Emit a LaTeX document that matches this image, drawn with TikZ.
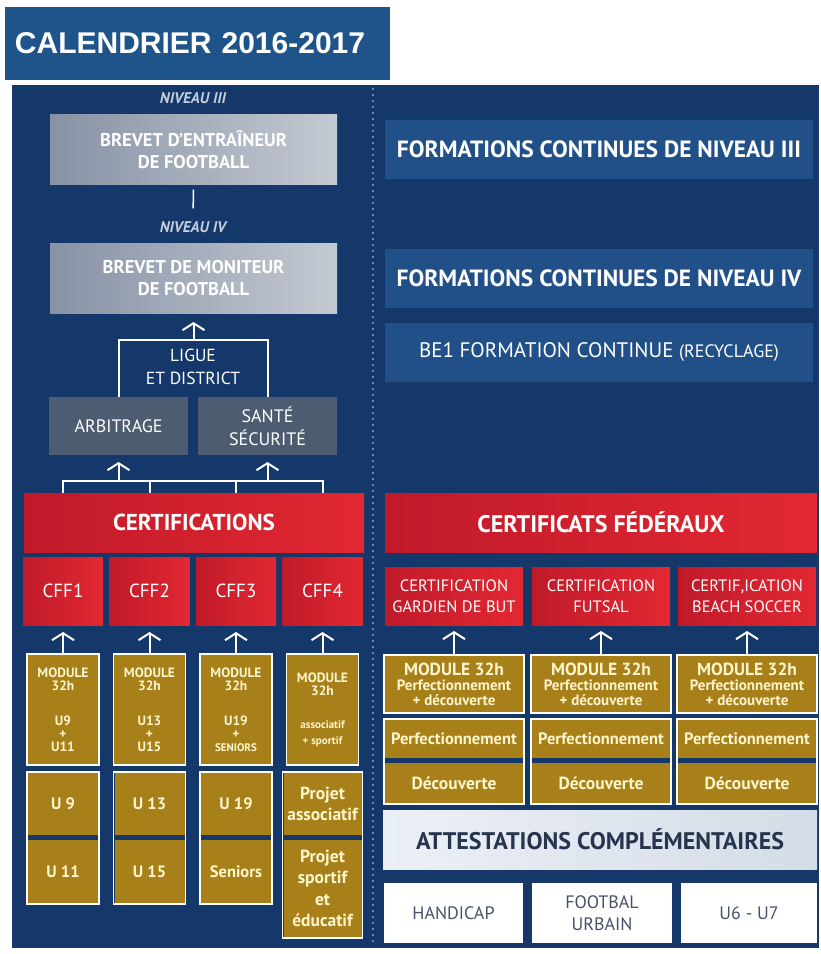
\documentclass[tikz,border=0pt]{standalone}
\usepackage{fontspec}
\setmainfont{PT Sans}
\newfontfamily\titlefont{Liberation Sans}
\usetikzlibrary{arrows.meta}
\usetikzlibrary{positioning}
\definecolor{navy}{RGB}{21,56,106}
\definecolor{titleblue}{RGB}{31,84,138}
\definecolor{bandblue}{RGB}{33,80,136}
\definecolor{silverL}{RGB}{135,146,165}
\definecolor{silverR}{RGB}{196,202,210}
\definecolor{slate}{RGB}{77,92,112}
\definecolor{redL}{RGB}{192,26,42}
\definecolor{redR}{RGB}{226,40,50}
\definecolor{gold}{RGB}{168,128,26}
\definecolor{cream}{RGB}{255,246,205}
\definecolor{niv}{RGB}{195,205,222}
\definecolor{dotblue}{RGB}{95,135,185}
\definecolor{attL}{RGB}{236,240,246}
\definecolor{attR}{RGB}{212,220,231}
\definecolor{ink}{RGB}{38,52,78}
\newcommand{\petit}{\fontsize{11}{12}\selectfont}

\begin{document}
\begin{tikzpicture}[%
        x=1pt, y=-1pt,
        every node/.style={inner sep=0pt, outer sep=0pt, align=center, text=white},
        niveau/.style={text=niv, font=\fontsize{15.5}{16}\selectfont\bfseries\itshape},
        greybox/.style={left color=silverL, right color=silverR, minimum width=287pt, minimum height=70pt, font=\fontsize{18.5}{22}\selectfont\bfseries},
        slatebox/.style={fill=slate, minimum width=139pt, minimum height=58pt, font=\fontsize{18}{23}\selectfont},
        redbox/.style={left color=redL, right color=redR},
        cffbox/.style={redbox, minimum width=80pt, minimum height=68pt, font=\fontsize{19}{20}\selectfont},
        certbox/.style={redbox, minimum width=138pt, minimum height=58pt, font=\fontsize{16.5}{21}\selectfont},
        band/.style={fill=bandblue, minimum width=428pt, minimum height=59pt},
        goldbox/.style={fill=gold, text=cream},
        moduleL/.style={goldbox, draw=white, line width=1.5pt, minimum width=72pt, minimum height=111pt, font=\fontsize{13.5}{13}\selectfont\bfseries},
        moduleR/.style={goldbox, draw=white, line width=1.5pt, minimum width=140pt, minimum height=58pt, font=\fontsize{15}{15}\selectfont\bfseries},
        modframe/.style={draw=white, line width=1.5pt, fill=navy},
        lowgold/.style={goldbox, font=\fontsize{16.5}{21}\selectfont\bfseries},
        whitebox/.style={fill=white, text=ink!85, minimum height=60pt, font=\fontsize{18}{22}\selectfont},
        link/.style={draw=white, line width=2pt},
        uparrow/.style={link, -{Straight Barb[length=7pt,width=22pt,line width=2pt]}, shorten >=7pt}
      ]
      \fill[white] (0,0) rectangle (821,954);
      \fill[navy] (12,85) rectangle (819,948);
      \node[fill=titleblue, minimum width=385pt, minimum height=73pt, text width=365pt, inner xsep=10pt, align=left, font=\titlefont\fontsize{30}{30}\selectfont\bfseries] (titre) at (197.5,43.5) {CALENDRIER 2016-2017};
      \draw[dotblue, line width=2pt, dash pattern=on 2pt off 4pt] (373,88) -- (373,945);

      \node[niveau] (niv3) at (193,98) {NIVEAU III};
      \node[greybox] (be) at (193.5,149.5) {BREVET D’ENTRAÎNEUR\\DE FOOTBALL};
      \node[niveau] (niv4) at (193,227) {NIVEAU IV};
      \node[greybox] (bm) at (193.5,278) {BREVET DE MONITEUR\\DE FOOTBALL};
      \node[font=\fontsize{17.5}{23}\selectfont] (ld) at (193,367) {LIGUE\\ET DISTRICT};
      \node[slatebox] (arb) at (118.5,426) {ARBITRAGE};
      \node[slatebox] (sante) at (267.5,426) {SANTÉ\\SÉCURITÉ};
      \node[redbox, minimum width=340pt, minimum height=59pt, font=\fontsize{23}{24}\selectfont\bfseries] (cert) at (194,522.5) {CERTIFICATIONS};
      \node[cffbox] (cff1) at (63,591) {CFF1};
      \node[cffbox, right=6.5pt of cff1] (cff2) {CFF2};
      \node[cffbox, right=6.5pt of cff2] (cff3) {CFF3};
      \node[cffbox, right=6.5pt of cff3] (cff4) {CFF4};
      \node[moduleL, below=29pt of cff1] (mod1) {MODULE\\32h\\[22pt]U9\\+\\U11};
      \node[moduleL, below=29pt of cff2] (mod2) {MODULE\\32h\\[22pt]U13\\+\\U15};
      \node[moduleL, below=29pt of cff3] (mod3) {MODULE\\32h\\[22pt]U19\\+\\{\petit SENIORS}};
      \node[moduleL, below=29pt of cff4] (mod4) {MODULE\\32h\\[20pt]{\petit associatif}\\[3pt]{\petit + sportif}};
      \node[modframe, minimum width=72pt, minimum height=132pt, below=7pt of mod1] (lo1) {};
      \node[modframe, minimum width=72pt, minimum height=132pt, below=7pt of mod2] (lo2) {};
      \node[modframe, minimum width=72pt, minimum height=132pt, below=7pt of mod3] (lo3) {};
      \node[modframe, minimum width=80pt, minimum height=166pt, below=7pt of mod4] (lo4) {};
      \node[lowgold, minimum width=70pt, minimum height=62pt, below=1pt of lo1.north] (u9) {U 9};
      \node[lowgold, minimum width=70pt, minimum height=63pt, above=1pt of lo1.south] (u11) {U 11};
      \node[lowgold, minimum width=70pt, minimum height=62pt, below=1pt of lo2.north] (u13) {U 13};
      \node[lowgold, minimum width=70pt, minimum height=63pt, above=1pt of lo2.south] (u15) {U 15};
      \node[lowgold, minimum width=70pt, minimum height=62pt, below=1pt of lo3.north] (u19) {U 19};
      \node[lowgold, minimum width=70pt, minimum height=63pt, above=1pt of lo3.south] (sen) {Seniors};
      \node[lowgold, font=\fontsize{17.5}{21.5}\selectfont\bfseries, minimum width=78pt, minimum height=62pt, below=1pt of lo4.north] (pa) {Projet\\associatif};
      \node[lowgold, font=\fontsize{17.5}{21.5}\selectfont\bfseries, minimum width=78pt, minimum height=97pt, above=1pt of lo4.south] (ps) {Projet\\sportif\\et\\éducatif};

      \node[band, font=\fontsize{23.5}{24}\selectfont\bfseries] (fc3) at (599,149) {FORMATIONS CONTINUES DE NIVEAU III};
      \node[band, font=\fontsize{23.5}{24}\selectfont\bfseries] (fc4) at (599,278) {FORMATIONS CONTINUES DE NIVEAU IV};
      \node[band, font=\fontsize{21}{22}\selectfont] (be1) at (599,352) {BE1 FORMATION CONTINUE {\fontsize{18}{20}\selectfont(RECYCLAGE)}};
      \node[redbox, minimum width=432pt, minimum height=59pt, font=\fontsize{24}{25}\selectfont\bfseries] (cf) at (601,522.5) {CERTIFICATS FÉDÉRAUX};
      \node[certbox] (cg) at (454,596) {CERTIFICATION\\GARDIEN DE BUT};
      \node[certbox, right=9pt of cg] (cfu) {CERTIFICATION\\FUTSAL};
      \node[certbox, right=8pt of cfu] (cbs) {CERTIF,ICATION\\BEACH SOCCER};
      \node[moduleR, below=30pt of cg] (mg) {{\fontsize{17.5}{16}\selectfont MODULE 32h}\\Perfectionnement\\+ découverte};
      \node[moduleR, below=30pt of cfu] (mf) {{\fontsize{17.5}{16}\selectfont MODULE 32h}\\Perfectionnement\\+ découverte};
      \node[moduleR, below=30pt of cbs] (mb) {{\fontsize{17.5}{16}\selectfont MODULE 32h}\\Perfectionnement\\+ découverte};
      \node[modframe, minimum width=140pt, minimum height=85pt, below=6pt of mg] (log) {};
      \node[modframe, minimum width=140pt, minimum height=85pt, below=6pt of mf] (lof) {};
      \node[modframe, minimum width=140pt, minimum height=85pt, below=6pt of mb] (lob) {};
      \node[lowgold, minimum width=138pt, minimum height=38pt, below=1pt of log.north] (pg) {Perfectionnement};
      \node[lowgold, font=\fontsize{17.5}{20}\selectfont\bfseries, minimum width=138pt, minimum height=40pt, above=1pt of log.south] (dg) {Découverte};
      \node[lowgold, minimum width=138pt, minimum height=38pt, below=1pt of lof.north] (pf) {Perfectionnement};
      \node[lowgold, font=\fontsize{17.5}{20}\selectfont\bfseries, minimum width=138pt, minimum height=40pt, above=1pt of lof.south] (df) {Découverte};
      \node[lowgold, minimum width=138pt, minimum height=38pt, below=1pt of lob.north] (pb) {Perfectionnement};
      \node[lowgold, font=\fontsize{17.5}{20}\selectfont\bfseries, minimum width=138pt, minimum height=40pt, above=1pt of lob.south] (db) {Découverte};
      \node[left color=attL, right color=attR, text=ink, minimum width=434pt, minimum height=59pt, font=\fontsize{24}{25}\selectfont\bfseries] (att) at (600,839.5) {ATTESTATIONS COMPLÉMENTAIRES};
      \node[whitebox, minimum width=139pt] (hand) at (453.5,913) {HANDICAP};
      \node[whitebox, minimum width=140pt, right=9pt of hand] (urb) {FOOTBAL\\URBAIN};
      \node[whitebox, minimum width=136pt, right=9pt of urb] (u67) {U6 - U7};

      \coordinate (ligue) at ([yshift=-27pt]bm.south);
      \coordinate (jb) at ([yshift=12pt]cert.north);
      \draw[link, line width=1.5pt, shorten <=5pt, shorten >=13pt] (be.south) -- (niv4.north);
      \draw[link] (arb.north) |- (ligue) -| (sante.north);
      \draw[uparrow, shorten >=9pt] (ligue) -- (bm.south);
      \draw[link] (cert.north -| cff1) |- (jb -| cff4) -- (cert.north -| cff4);
      \draw[link] (cert.north -| cff2) -- (jb -| cff2);
      \draw[link] (cert.north -| cff3) -- (jb -| cff3);
      \draw[uparrow] (jb -| arb) -- (arb.south);
      \draw[uparrow] (jb -| sante) -- (sante.south);
      \draw[uparrow] (mod1.north) -- (cff1.south);
      \draw[uparrow] (mod2.north) -- (cff2.south);
      \draw[uparrow] (mod3.north) -- (cff3.south);
      \draw[uparrow] (mod4.north) -- (cff4.south);
      \draw[uparrow, shorten >=6pt] (mg.north) -- (cg.south);
      \draw[uparrow, shorten >=6pt] (mf.north) -- (cfu.south);
      \draw[uparrow, shorten >=6pt] (mb.north) -- (cbs.south);
    \end{tikzpicture}
\end{document}
